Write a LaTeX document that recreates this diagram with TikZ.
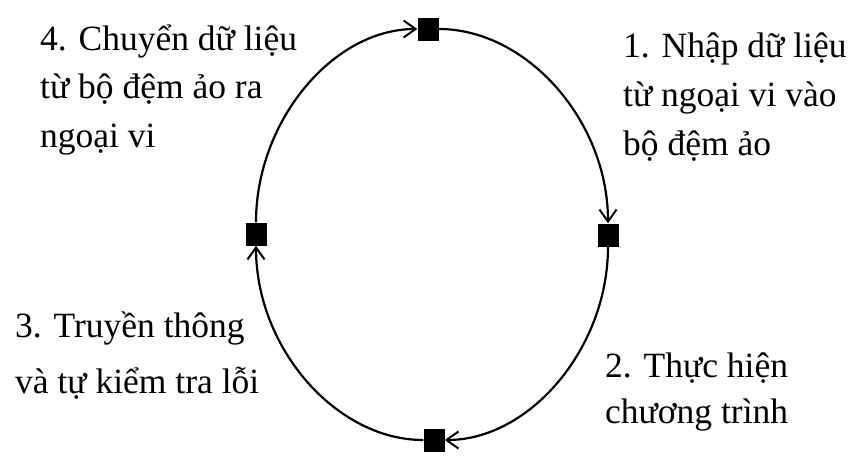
\documentclass[tikz,border=0pt]{standalone}
\usepackage{fontspec}
\setmainfont{Liberation Serif}
\usetikzlibrary{arrows.meta}

\tikzset{
  sq/.style={fill=black, minimum width=21pt, minimum height=23pt, inner sep=0pt},
  lbl/.style={font=\fontsize{35.5}{#1}\selectfont, align=left, anchor=base west, inner sep=0pt},
  flow/.style={line width=2.2pt, -{Straight Barb[length=12pt,width=17pt,line width=2pt]}}
}

\begin{document}
\begin{tikzpicture}[x=1pt, y=-1pt]
    \useasboundingbox (0,0) rectangle (848,456);

    % Points on the cycle
    \node[sq] (top) at (428,29) {};
    \node[sq] (right) at (608,235) {};
    \node[sq] (bottom) at (434,440) {};
    \node[sq] (left) at (256,234) {};

    % Cycle arcs (clockwise)
    \draw[flow] (left) .. controls +(0,-113) and +(-95,0) .. (top);
    \draw[flow] (top) .. controls +(99,0) and +(0,-114) .. (right);
    \draw[flow] (right) .. controls +(0,113) and +(96,0) .. (bottom);
    \draw[flow] (bottom) .. controls +(-98,0) and +(0,114) .. (left);

    % Labels (anchored at the baseline of the last line)
    \node[lbl=49] (lbl1) at (623,155) {1. Nhập dữ liệu\\từ ngoại vi vào\\bộ đệm ảo};
    \node[lbl=46] (lbl2) at (605,423) {2. Thực hiện\\chương trình};
    \node[lbl=56] (lbl3) at (15,393) {3. Truyền thông\\và tự kiểm tra lỗi};
    \node[lbl=48.5] (lbl4) at (40,147) {4. Chuyển dữ liệu\\từ bộ đệm ảo ra\\ngoại vi};
\end{tikzpicture}
\end{document}
